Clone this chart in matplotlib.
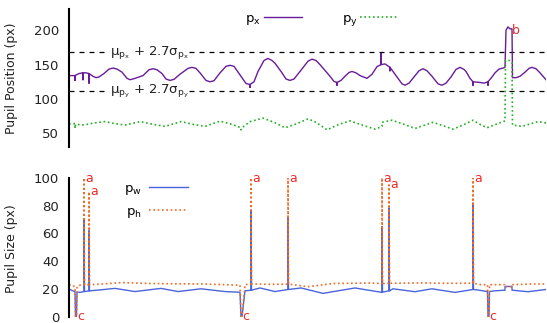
import matplotlib
matplotlib.use('Agg')
import matplotlib.pyplot as plt

plt.rcParams['font.family'] = ['DejaVu Sans']
plt.rcParams['mathtext.fontset'] = 'dejavusans'
plt.rcParams['mathtext.default'] = 'regular'

# ---------------- datos (frame vs valor) ----------------
# posicion pupila, eje x
px_t = [0, 6, 6, 6, 10, 14, 14, 14, 17, 20, 20, 20, 24, 27, 30, 35, 40, 44, 48, 53, 58, 61, 65, 74, 80,
        84, 88, 93, 97, 101, 105, 111, 119, 123, 127, 131, 137, 141, 145, 151, 157, 161, 165, 171, 177,
        181, 181, 181, 185, 189, 195, 199, 203, 206, 213, 217, 221, 225, 231, 239, 243, 247, 251, 261,
        265, 268, 268, 268, 272, 276, 280, 283, 287, 291, 298, 303, 308, 312, 312, 312, 316, 321, 321,
        321, 329, 333, 336, 340, 345, 350, 354, 358, 363, 369, 373, 377, 382, 387, 391, 395, 397, 401,
        404, 404, 404, 411, 415, 419, 419, 419, 423, 426, 430, 434, 436, 437, 439, 441, 443, 443.5,
        447, 451, 456, 460, 463, 467, 471, 477]
px_v = [134, 134, 127, 134, 137, 138, 128, 138, 138, 137, 123, 137, 133, 131, 132, 137, 143.5, 145, 143.5,
        139, 130, 128, 129.5, 134, 142.5, 144, 142.5, 137, 129, 127, 128.5, 136, 144.5, 146, 144.5, 138,
        127, 125, 126.5, 138, 147.5, 149, 147.5, 135, 122.5, 121, 117, 121, 125, 140, 156, 159, 156, 152,
        138, 129, 127, 129, 140, 155, 158, 156, 150, 133, 125.5, 124, 120, 124, 127, 133, 138.5, 140,
        138, 134, 130, 136, 147, 150, 166, 150, 151, 146, 141, 146, 130, 122, 120, 123, 132, 141, 144,
        141, 133, 122, 120, 123, 132, 143, 146, 143, 140, 130, 125, 120, 125, 124, 123, 125, 120, 125,
        132, 138, 143.5, 145, 146, 200, 205, 202, 202, 131, 131, 133, 139, 144.5, 146, 144, 138, 128]

# posicion pupila, eje y
py_t = [0, 6, 6, 6.5, 15, 25, 36, 46, 56, 71, 84, 96, 112, 124, 136, 151, 163, 172, 172, 173, 181, 194,
        205, 216, 228, 239, 247, 258, 270, 281, 293, 306, 313, 313, 323, 335, 346, 356, 364, 374, 384,
        394, 404, 411, 418, 427, 436, 436.5, 441, 443, 443.5, 453, 462, 469, 477]
py_v = [64, 64, 57, 63, 62, 65, 67, 64, 62, 67, 63, 60, 67, 63, 60, 67.7, 63, 58, 55, 58, 67, 72,
        66, 58, 64, 71, 66, 55, 63, 68, 62, 56, 60, 66, 69, 63, 57, 62, 66, 61, 56,
        62, 69, 63, 58, 63, 68, 156, 156, 153, 62, 60, 64, 67, 65]

mu_px = 168   # mu_px + 2.7 sigma_px
mu_py = 111   # mu_py + 2.7 sigma_py

# tamano pupila, ancho
pw_t = [0, 4, 6, 6.5, 7.5, 8, 12, 15, 15, 15.5, 20, 20, 20.5, 28, 46, 66, 92, 109, 132, 156, 171,
        172, 173, 176, 182, 182, 182.5, 191, 206, 219, 219, 219.5, 232, 254, 286, 313, 313, 313.5,
        320, 320, 320.5, 324, 346, 363, 386, 404, 404, 404.5, 410, 418.5, 419, 420, 420.5, 425,
        436, 436, 443, 443, 459, 477]
pw_v = [19.8, 18.5, 18, 0, 0, 17.5, 17.5, 18, 70, 18, 18.5, 62, 18.5, 19, 20.3, 18, 20.3, 18, 20, 18, 17.5,
        0, 0, 18.5, 19, 77, 19, 20.6, 18, 19.5, 71.5, 19.5, 20.6, 16.7, 20.6, 17.4, 65, 17.6,
        18.5, 78, 18.5, 20, 17.9, 20, 17.4, 19.5, 82, 19.5, 19, 18, 0, 0, 18, 18.5,
        19, 21.7, 21.7, 19, 17.9, 19.5]

# tamano pupila, alto
ph_t = [0, 4, 6, 6.5, 7.5, 8, 12, 15, 15, 15.5, 20, 20, 20.5, 30, 53, 83, 110, 132, 156, 171,
        172, 173, 176, 182, 182, 182.5, 200, 219, 219, 219.5, 239, 264, 300, 313, 313, 313.5, 320, 320,
        320.5, 350, 380, 404, 404, 404.5, 412, 418.5, 419, 420, 420.5, 436, 436, 443, 443, 460, 477]
ph_v = [23, 22.5, 21, 0, 0, 21.5, 23, 23, 100, 23, 23, 90, 23, 23.3, 24.5, 23.8, 23.6, 23.5, 23, 22.5,
        0, 0, 23, 23.5, 100, 23.5, 23.2, 23.4, 100, 23.4, 21.5, 23.8, 24.2, 23.8, 100, 23.8, 24, 95,
        24, 24.2, 24, 24, 100, 24, 23, 23, 0, 0, 23, 23, 21.5, 21.5, 23, 23.4, 23.5]

# etiquetas de eventos
a_t = [15, 20, 182, 219, 313, 320, 404]
a_v = [100, 90, 100, 100, 100, 95, 100]
c_t = [6.5, 172, 419]
b_t, b_v = 440, 200

# ---------------- grafico ----------------
W, H = 547, 323
fig = plt.figure(figsize=(W / 100, H / 100), dpi=100)

def caja(x0, y0, x1, y1):
    return [x0 / W, 1 - y1 / H, (x1 - x0) / W, (y1 - y0) / H]

ax1 = fig.add_axes(caja(69, 9, 546, 147))
ax2 = fig.add_axes(caja(69, 178, 546, 316.5))

morado = '#6a1b9a'
verde = '#22b022'
azul = '#4a64dc'
naranja = '#f06a22'
rojo = '#ee2a2a'
tinta = '#222222'

for ax in (ax1, ax2):
    for s in ('top', 'right', 'bottom'):
        ax.spines[s].set_visible(False)
    ax.spines['left'].set_linewidth(1.5)
    ax.set_xticks([])
    ax.tick_params(axis='y', length=0, pad=7, labelsize=9.5, labelcolor=tinta)
    ax.set_xlim(0, 477)

# --- posicion ---
ax1.plot(px_t, px_v, color=morado, lw=1.0, label='$p_x$')
ax1.plot(py_t, py_v, color=verde, lw=1.2, ls=(0, (1, 1.6)), label='$p_y$')
ax1.axhline(mu_px, color='black', lw=0.9, ls=(0, (4, 4)), zorder=1)
ax1.axhline(mu_py, color='black', lw=0.9, ls=(0, (4, 4)), zorder=1)
ax1.text(41, mu_px, r'$\mu_{p_x}$ + 2.7$\sigma_{p_x}$', fontsize=9.5, color=tinta, va='center',
         bbox=dict(facecolor='white', edgecolor='none', pad=0.5), zorder=2)
ax1.text(41, mu_py, r'$\mu_{p_y}$ + 2.7$\sigma_{p_y}$', fontsize=9.5, color=tinta, va='center',
         bbox=dict(facecolor='white', edgecolor='none', pad=0.5), zorder=2)
ax1.text(b_t + 3, b_v, 'b', color=rojo, fontsize=9, va='center')
ax1.set_ylim(30, 231)
ax1.set_yticks([50, 100, 150, 200])
ax1.legend(loc='center', bbox_to_anchor=(0.53, 0.92), ncol=2, frameon=False, markerfirst=False,
           fontsize=9.5, handlelength=2.9, handletextpad=0.2, columnspacing=3.0, borderpad=0)

# --- tamano ---
ax2.plot(pw_t, pw_v, color=azul, lw=1.0, label='$p_w$')
ax2.plot(ph_t, ph_v, color=naranja, lw=1.2, ls=(0, (1, 1.6)), label='$p_h$')
for t, v in zip(a_t, a_v):
    ax2.text(t + 0.8, v, 'a', color=rojo, fontsize=9, va='center')
for t in c_t:
    ax2.text(t + 1.5, 0, 'c', color=rojo, fontsize=9, va='center')
ax2.set_ylim(0, 100)
ax2.set_yticks([0, 20, 40, 60, 80, 100])
ax2.legend(loc='center', bbox_to_anchor=(0.182, 0.835), ncol=1, frameon=False, markerfirst=False,
           fontsize=9.5, handlelength=2.9, handletextpad=0.6, labelspacing=0.6, borderpad=0)

fig.text(12 / W, 1 - 78 / H, 'Pupil Position (px)', rotation=90, ha='center', va='center',
         fontsize=9, color=tinta)
fig.text(12 / W, 1 - 249 / H, 'Pupil Size (px)', rotation=90, ha='center', va='center',
         fontsize=9, color=tinta)

fig.savefig('out.png', dpi=100)
